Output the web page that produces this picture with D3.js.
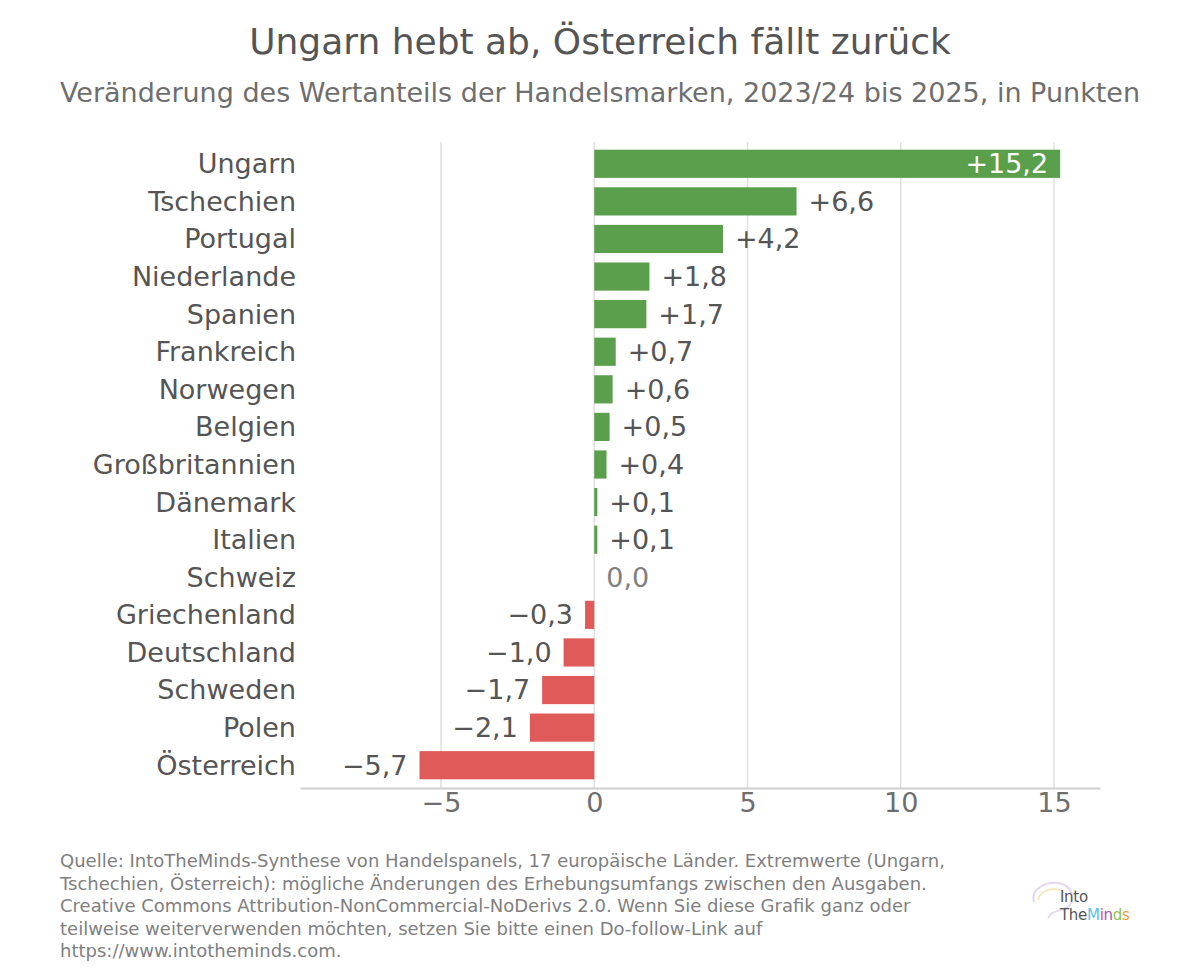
<!DOCTYPE html>
<html>
<head>
<meta charset="utf-8">
<script src="https://cdn.jsdelivr.net/npm/d3@7"></script>
<style>
  body { margin: 0; background: #fff; }
  svg { display: block; font-family: "DejaVu Sans", sans-serif; }
</style>
</head>
<body>
<div id="chart"></div>
<script>
// data
const countries = ["Ungarn", "Tschechien", "Portugal", "Niederlande", "Spanien", "Frankreich",
  "Norwegen", "Belgien", "Großbritannien", "Dänemark", "Italien", "Schweiz",
  "Griechenland", "Deutschland", "Schweden", "Polen", "Österreich"];
const changes = [15.2, 6.6, 4.2, 1.8, 1.7, 0.7, 0.6, 0.5, 0.4, 0.1, 0.1, 0.0,
  -0.3, -1.0, -1.7, -2.1, -5.7];
const xTicks = [-5, 0, 5, 10, 15];

const title = "Ungarn hebt ab, Österreich fällt zurück";
const subtitle = "Veränderung des Wertanteils der Handelsmarken, 2023/24 bis 2025, in Punkten";
const footnote = [
  "Quelle: IntoTheMinds-Synthese von Handelspanels, 17 europäische Länder. Extremwerte (Ungarn,",
  "Tschechien, Österreich): mögliche Änderungen des Erhebungsumfangs zwischen den Ausgaben.",
  "Creative Commons Attribution-NonCommercial-NoDerivs 2.0. Wenn Sie diese Grafik ganz oder",
  "teilweise weiterverwenden möchten, setzen Sie bitte einen Do-follow-Link auf",
  "https://www.intotheminds.com."
];

const width = 1200, height = 979;
const green = "#5a9f4b", red = "#e05a5a";

const svg = d3.select("#chart").append("svg")
  .attr("width", width)
  .attr("height", height);

const x = d3.scaleLinear().domain([-9.6, 16.5]).range([300, 1100]);
const y = d3.scaleBand().domain(countries).range([145, 784]).paddingInner(0.25).paddingOuter(0.125);

// gridlines
svg.append("g").selectAll("line")
  .data(xTicks)
  .join("line")
  .attr("x1", d => x(d)).attr("x2", d => x(d))
  .attr("y1", 142).attr("y2", 788)
  .attr("stroke", "#e0e0e0")
  .attr("stroke-width", 1.5);

// x axis
const xAxis = svg.append("g")
  .attr("transform", "translate(0,788)")
  .call(d3.axisBottom(x).tickValues(xTicks).tickSize(0).tickPadding(5)
    .tickFormat(d => d < 0 ? "\u2212" + Math.abs(d) : d));
xAxis.select(".domain").attr("stroke", "#d0d0d0").attr("stroke-width", 2);
xAxis.selectAll("text")
  .attr("fill", "#6e6e6e")
  .style("font-size", "27px")
  .style("font-family", "DejaVu Sans, sans-serif");

// bars
svg.append("g").selectAll("rect")
  .data(changes)
  .join("rect")
  .attr("x", d => x(Math.min(0, d)))
  .attr("y", (d, i) => y(countries[i]))
  .attr("width", d => Math.abs(x(d) - x(0)))
  .attr("height", y.bandwidth())
  .attr("fill", d => d >= 0 ? green : red);

// category labels
svg.append("g").selectAll("text")
  .data(countries)
  .join("text")
  .attr("x", 296)
  .attr("y", d => y(d) + y.bandwidth() / 2)
  .attr("dy", "0.35em")
  .attr("text-anchor", "end")
  .attr("fill", "#555")
  .style("font-size", "27px")
  .text(d => d);

// value labels
function fmt(v) {
  const s = Math.abs(v).toFixed(1).replace(".", ",");
  if (v > 0) return "+" + s;
  if (v < 0) return "\u2212" + s;
  return s;
}
const maxVal = d3.max(changes);
svg.append("g").selectAll("text")
  .data(changes)
  .join("text")
  .attr("x", d => {
    if (d === maxVal) return x(d) - 12;
    if (d < 0) return x(d) - 12;
    return x(d) + 12;
  })
  .attr("y", (d, i) => y(countries[i]) + y.bandwidth() / 2)
  .attr("dy", "0.35em")
  .attr("text-anchor", d => (d === maxVal || d < 0) ? "end" : "start")
  .attr("fill", d => d === maxVal ? "#fff" : (d === 0 ? "#808080" : "#555"))
  .style("font-size", "27px")
  .text(d => fmt(d));

// titles
svg.append("text")
  .attr("x", width / 2).attr("y", 54)
  .attr("text-anchor", "middle")
  .attr("fill", "#555")
  .style("font-size", "36px")
  .text(title);
svg.append("text")
  .attr("x", width / 2).attr("y", 102)
  .attr("text-anchor", "middle")
  .attr("fill", "#6e6e6e")
  .style("font-size", "27px")
  .text(subtitle);

// footnote
svg.append("g").selectAll("text")
  .data(footnote)
  .join("text")
  .attr("x", 60)
  .attr("y", (d, i) => 867 + i * 22.5)
  .attr("fill", "#808080")
  .style("font-size", "18px")
  .text(d => d);

// logo (rough)
const logo = svg.append("g").attr("transform", "translate(1030,880)");
logo.append("path")
  .attr("d", "M4,22 C0,8 18,0 32,4 C44,8 46,22 36,28 C28,32 22,30 18,38")
  .attr("fill", "none").attr("stroke", "#d8c8e8").attr("stroke-width", 2).attr("opacity", 0.7);
logo.append("path")
  .attr("d", "M8,20 C10,10 24,6 34,12")
  .attr("fill", "none").attr("stroke", "#f0d890").attr("stroke-width", 1.5).attr("opacity", 0.7);
logo.append("text")
  .attr("x", 30).attr("y", 22)
  .attr("fill", "#555")
  .style("font-size", "15px")
  .style("letter-spacing", "-0.3px")
  .text("Into");
const tm = logo.append("text")
  .attr("x", 30).attr("y", 40)
  .style("font-size", "15px")
  .style("letter-spacing", "-0.3px");
[["The", "#555"], ["M", "#5bc4de"], ["i", "#e64a8e"], ["n", "#9b59b6"], ["d", "#8cc63f"], ["s", "#f39c32"]]
  .forEach(p => tm.append("tspan").attr("fill", p[1]).text(p[0]));
</script>
</body>
</html>
